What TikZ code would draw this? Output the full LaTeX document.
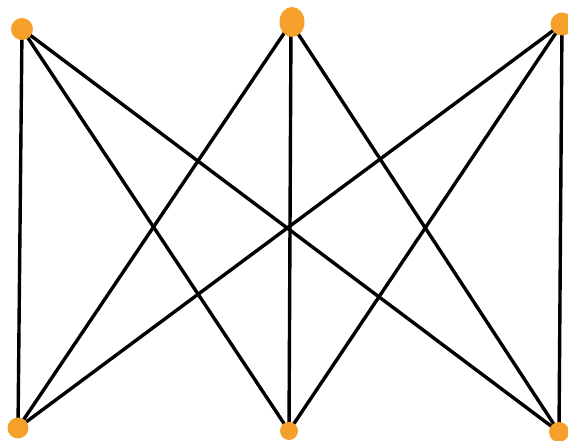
\documentclass[tikz,border=0pt]{standalone}
\usetikzlibrary{shapes.geometric}
\definecolor{vorange}{RGB}{244,160,42}
\begin{document}
\begin{tikzpicture}[x=1pt,y=-1pt,
  vert/.style={circle,fill=vorange,inner sep=0pt},
  edge/.style={line width=3.4pt,black}]
\useasboundingbox[fill=white] (0,0) rectangle (568,441);
\coordinate (a) at (22,29);
\coordinate (b) at (291,23);
\coordinate (c) at (562,24);
\coordinate (d) at (18,428);
\coordinate (e) at (289,431);
\coordinate (f) at (559,432);
\foreach \u in {a,b,c}{\foreach \v in {d,e,f}{\draw[edge] (\u) -- (\v);}}
\node[vert,minimum size=22pt] (na) at (a) {};
\node[vert,ellipse,minimum width=25pt,minimum height=30pt] (nb) at (292,22) {};
\node[vert,minimum size=23pt] (nc) at (c) {};
\node[vert,minimum size=21pt] (nd) at (d) {};
\node[vert,minimum size=18pt] (ne) at (e) {};
\node[vert,minimum size=20pt] (nf) at (f) {};
\end{tikzpicture}
\end{document}
